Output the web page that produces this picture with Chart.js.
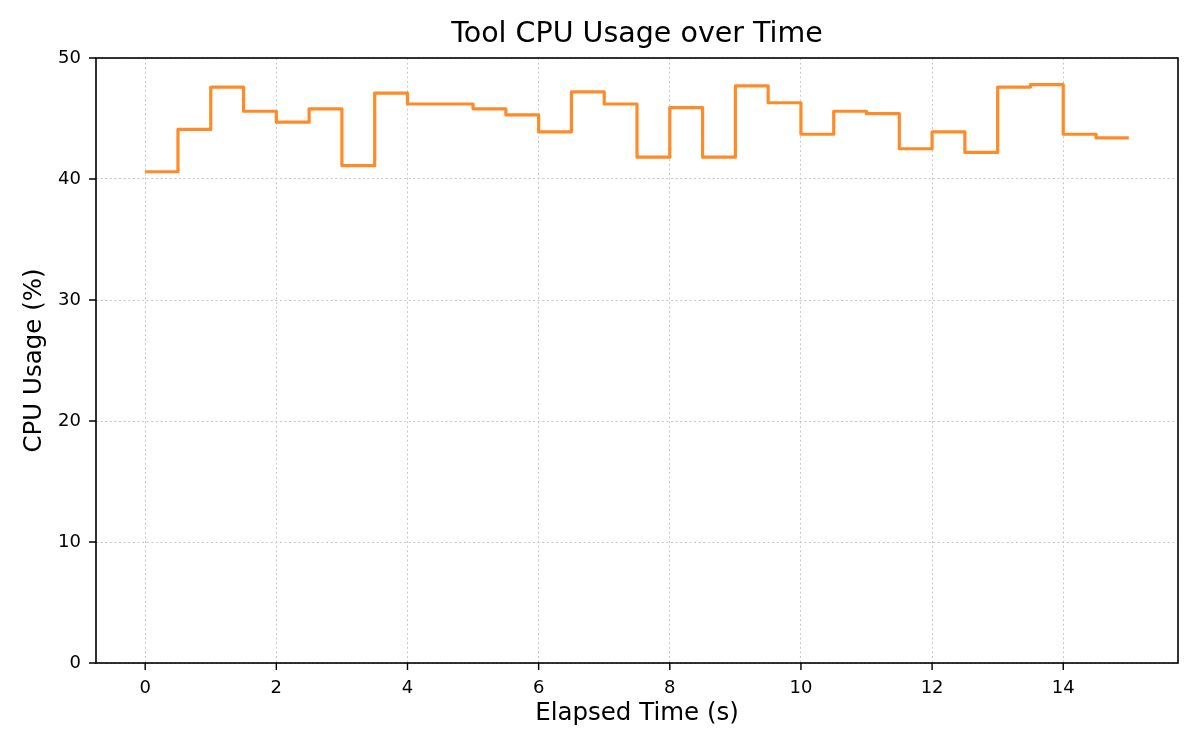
<!DOCTYPE html>
<html>
<head>
<meta charset="utf-8">
<title>Tool CPU Usage over Time</title>
<script src="https://cdn.jsdelivr.net/npm/chart.js@4/dist/chart.umd.min.js"></script>
<style>
  html, body { margin: 0; padding: 0; background: #fff; }
  #chart { display: block; }
</style>
</head>
<body>
<canvas id="chart" width="1200" height="750"></canvas>
<script>
// elapsed time (s) and CPU usage (%)
var times = [0, 0.5, 1, 1.5, 2, 2.5, 3, 3.5, 4, 4.5, 5, 5.5, 6, 6.5, 7, 7.5,
             8, 8.5, 9, 9.5, 10, 10.5, 11, 11.5, 12, 12.5, 13, 13.5, 14, 14.5, 15];
var cpuUsage = [40.6, 44.1, 47.6, 45.6, 44.7, 45.8, 41.1, 47.1, 46.2, 46.2, 45.8, 45.3,
                43.9, 47.2, 46.2, 41.8, 45.9, 41.8, 47.7, 46.3, 43.7, 45.6, 45.4, 42.5,
                43.9, 42.2, 47.6, 47.8, 43.7, 43.4, 43.4];
var xTicks = [0, 2, 4, 6, 8, 10, 12, 14];
var yTicks = [0, 10, 20, 30, 40, 50];
var titleText = 'Tool CPU Usage over Time';

var points = [];
for (var i in times) {
	points.push({x: times[i], y: cpuUsage[i]});
}

var FONT = "'DejaVu Sans', 'Liberation Sans', sans-serif";

// box around the plot, outward tick marks and a title centred over the axes
var frame = {
	id: 'frame',
	afterDraw: function(chart) {
		var ctx = chart.ctx;
		var a = chart.chartArea;
		var xs = chart.scales.x, ys = chart.scales.y;
		ctx.save();
		ctx.strokeStyle = '#000';
		ctx.lineWidth = 1.6;
		ctx.setLineDash([]);
		ctx.strokeRect(a.left, a.top, a.right - a.left, a.bottom - a.top);
		ctx.lineWidth = 1.4;
		ctx.beginPath();
		xs.ticks.forEach(function(t) {
			var px = xs.getPixelForValue(t.value);
			ctx.moveTo(px, a.bottom);
			ctx.lineTo(px, a.bottom + 7);
		});
		ys.ticks.forEach(function(t) {
			var py = ys.getPixelForValue(t.value);
			ctx.moveTo(a.left - 7, py);
			ctx.lineTo(a.left, py);
		});
		ctx.stroke();

		ctx.fillStyle = '#000';
		ctx.font = '28.5px ' + FONT;
		ctx.textAlign = 'center';
		ctx.textBaseline = 'middle';
		ctx.fillText(titleText, (a.left + a.right) / 2, 35);
		ctx.restore();
	}
};

var ctx = document.getElementById('chart');

var chart = new Chart(ctx, {
	type: 'line',
	data: {
		datasets: [{
			label: 'CPU Usage',
			data: points,
			stepped: 'before',
			borderColor: '#ff8b28',
			borderWidth: 3.2,
			borderJoinStyle: 'round',
			fill: false,
			pointRadius: 0,
			tension: 0
		}]
	},
	options: {
		responsive: false,
		animation: false,
		devicePixelRatio: 1,
		layout: { padding: { left: 0, right: 22, top: 58, bottom: 0 } },
		plugins: {
			legend: { display: false },
			tooltip: { enabled: false },
			title: { display: false }
		},
		scales: {
			x: {
				type: 'linear',
				min: -0.75,
				max: 15.75,
				afterBuildTicks: function(scale) {
					scale.ticks = xTicks.map(function(v) { return {value: v}; });
				},
				afterFit: function(scale) { scale.height = 87; },
				ticks: {
					color: '#000',
					font: { family: FONT, size: 18 },
					padding: 15,
					maxRotation: 0,
					autoSkip: false
				},
				grid: {
					color: '#c8c8c8',
					lineWidth: 1,
					drawTicks: false
				},
				border: { display: false, dash: [2, 2.6] },
				title: {
					display: true,
					text: 'Elapsed Time (s)',
					color: '#000',
					font: { family: FONT, size: 24.5, lineHeight: 1.2 },
					padding: { top: 0, bottom: 21.3 }
				}
			},
			y: {
				min: 0,
				max: 50,
				afterBuildTicks: function(scale) {
					scale.ticks = yTicks.map(function(v) { return {value: v}; });
				},
				afterFit: function(scale) { scale.width = 96; },
				ticks: {
					color: '#000',
					font: { family: FONT, size: 18 },
					padding: 15
				},
				grid: {
					color: '#c8c8c8',
					lineWidth: 1,
					drawTicks: false
				},
				border: { display: false, dash: [2, 2.6] },
				title: {
					display: true,
					text: 'CPU Usage (%)',
					color: '#000',
					font: { family: FONT, size: 24.5, lineHeight: 1.2 },
					padding: { top: 20.3, bottom: 0 }
				}
			}
		}
	},
	plugins: [frame]
});
</script>
</body>
</html>
